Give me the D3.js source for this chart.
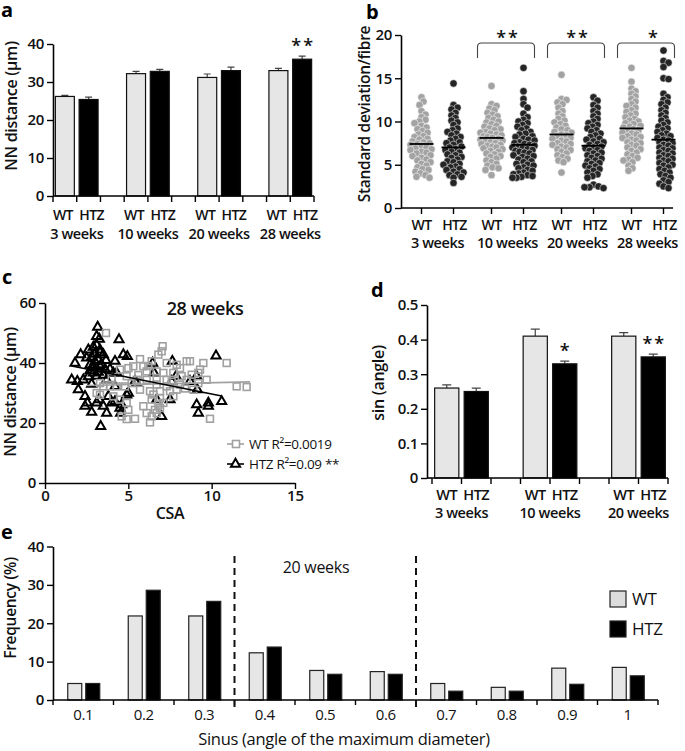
<!DOCTYPE html>
<html><head><meta charset="utf-8">
<script src="https://cdn.jsdelivr.net/npm/d3@7"></script>
<style>
body{margin:0;background:#fff}
</style></head><body>
<svg id="c" width="685" height="751" xmlns="http://www.w3.org/2000/svg"></svg>
<script>
// ---------- DATA ----------
const genotypes = ["WT", "HTZ"];
// panel a
const weeksA = ["3 weeks", "10 weeks", "20 weeks", "28 weeks"];
const nnWT = [26.2, 32.2, 31.2, 33.0];
const nnHTZ = [25.4, 32.8, 33.0, 36.0];
const nnWTerr = [0.3, 0.6, 0.9, 0.6];
const nnHTZerr = [0.6, 0.5, 0.9, 0.8];
const nnTicks = [0, 10, 20, 30, 40];
const nnSig = ["", "", "", "**"];
// panel b
const sdTicks = [0, 5, 10, 15, 20];
const sdWT3 = [12.8,12.3,11.9,11.2,10.8,10.5,10.2,10.0,9.8,9.5,9.3,9.1,8.9,8.7,8.5,8.3,8.2,8.0,7.9,7.7,7.6,7.5,7.4,7.3,7.2,7.0,6.9,6.8,6.7,6.5,6.4,6.3,6.1,6.0,5.8,5.6,5.5,5.3,5.1,4.9,4.7,4.5,4.4,4.2,4.0,3.8,3.6,3.5];
const sdHTZ3 = [14.4,11.9,11.6,11.4,11.0,10.7,10.4,10.1,9.9,9.6,9.2,9.0,8.8,8.6,8.4,8.2,8.0,7.8,7.6,7.5,7.3,7.1,7.0,6.8,6.7,6.5,6.4,6.2,6.1,5.9,5.8,5.6,5.4,5.3,5.1,5.0,4.8,4.7,4.5,4.4,4.2,4.1,3.9,3.8,3.6,3.5,2.9];
const sdWT10 = [14.1,12.0,11.8,11.5,11.3,11.0,10.8,10.6,10.4,10.2,10.0,9.9,9.7,9.5,9.4,9.2,9.1,9.0,8.8,8.7,8.6,8.5,8.4,8.3,8.2,8.1,8.0,7.9,7.8,7.7,7.6,7.5,7.4,7.3,7.2,7.1,7.0,6.9,6.8,6.6,6.5,6.3,6.2,6.0,5.9,5.7,5.5,5.3,5.1,4.9,4.7,4.6,4.4,3.8];
const sdHTZ10 = [16.2,13.5,12.6,12.0,11.6,10.9,10.5,10.2,10.0,9.8,9.6,9.4,9.2,9.0,8.8,8.6,8.5,8.3,8.2,8.0,7.9,7.8,7.6,7.5,7.4,7.3,7.2,7.1,7.0,6.9,6.8,6.7,6.6,6.5,6.4,6.3,6.1,6.0,5.9,5.7,5.6,5.4,5.3,5.1,5.0,4.9,4.7,4.6,4.4,4.3,4.1,4.0,3.9,3.8,3.7,3.6,3.5,3.5];
const sdWT20 = [15.4,12.6,12.5,12.2,12.0,11.6,11.2,10.9,10.6,10.3,10.1,9.9,9.7,9.5,9.3,9.1,9.0,8.8,8.7,8.5,8.4,8.3,8.1,8.0,7.8,7.7,7.5,7.4,7.3,7.1,7.0,6.8,6.7,6.5,6.3,6.1,5.9,5.7,5.5,5.3,4.1];
const sdHTZ20 = [12.8,12.4,11.9,11.6,11.2,10.9,10.6,10.3,10.0,9.8,9.6,9.4,9.2,9.0,8.8,8.6,8.4,8.2,8.0,7.9,7.7,7.6,7.4,7.3,7.1,7.0,6.9,6.7,6.6,6.4,6.3,6.1,6.0,5.8,5.7,5.5,5.4,5.2,5.1,4.9,4.8,4.6,4.5,4.3,4.1,3.9,3.7,3.5,2.7,2.5,2.4,2.3,2.4];
const sdWT28 = [16.2,14.6,13.8,13.5,13.2,12.9,12.6,12.3,12.0,11.8,11.6,11.3,11.1,10.9,10.7,10.5,10.3,10.1,10.0,9.8,9.7,9.5,9.4,9.3,9.1,9.0,8.9,8.7,8.6,8.5,8.3,8.2,8.1,7.9,7.8,7.6,7.5,7.3,7.2,7.0,6.8,6.6,6.4,6.2,6.0,5.8,5.6,5.5,5.3,4.9,4.6,4.3];
const sdHTZ28 = [18.2,17.0,16.8,16.3,15.0,14.9,13.2,12.8,12.5,12.2,12.0,11.6,11.3,11.0,10.7,10.4,10.1,9.9,9.6,9.4,9.2,9.0,8.8,8.6,8.4,8.3,8.1,7.9,7.8,7.6,7.5,7.3,7.2,7.0,6.9,6.7,6.6,6.4,6.3,6.1,6.0,5.8,5.7,5.5,5.4,5.2,5.0,4.9,4.7,4.5,4.3,4.1,3.9,3.7,3.5,3.2,3.0,2.8,2.5,2.3];
const sdMeanWT = [7.4, 8.1, 8.5, 9.2];
const sdMeanHTZ = [7.0, 7.3, 7.2, 7.9];
const sdSig = ["", "**", "**", "*"];
// panel c
const csaTicks = [0, 5, 10, 15];
const nnCTicks = [0, 20, 40, 60];
const wtCSA = [3.66,7.06,7.0,6.8,5.7,6.4,8.5,8.7,9.5,10.9,5.3,5.9,5.0,7.3,7.9,8.1,9.3,4.5,6.1,6.7,7.1,7.7,8.8,9.2,8.2,7.3,6.7,6.1,5.5,5.2,4.9,3.3,3.5,3.9,4.3,4.8,5.7,6.3,6.9,7.5,7.9,7.3,6.7,8.1,8.5,11.5,12.1,3.1,3.3,4.1,4.5,4.9,5.0,4.6,4.9,5.4,5.9,6.1,6.4,6.3,6.6,6.8,6.7,7.1,6.9,6.4,7.7,9.9,8.9,9.7,9.2,6.5,6.9,5.6,4.0,7.6,8.4,6.2];
const wtNN  = [50,45.6,43.9,42.8,41.3,40.6,40.6,40.6,40,40,38.9,38.9,38.3,40,39.4,38.3,37.8,37.8,37.2,37.2,36.7,36.7,36.1,36.7,35.6,34.4,35,34.4,34.4,33.3,35.6,33.3,32.2,32.2,32.2,32.2,31.1,30.6,30.6,30.6,31.1,32.2,32.8,32.8,34.4,32.2,32,30,29.4,28.9,27.8,26.7,24.4,22.2,21.3,21.4,25.6,23.3,22.2,20.2,24.4,26.1,23.3,26.7,28.3,27.8,28.9,21.4,31.1,34.4,33.3,29.5,25.0,36.0,35.0,33.8,31.5,39.0];
const htzCSA = [3.16,3.1,3.26,4.44,2.14,1.8,2.5,2.7,2.9,2.6,3.3,3.5,3.66,4.2,4.7,4.94,1.6,1.94,2.3,2.0,2.4,2.54,2.4,2.8,3.1,3.24,3.5,3.7,3.34,3.8,4.0,4.2,4.5,4.54,4.6,4.9,5.0,4.2,3.7,4.1,4.3,2.9,3.1,3.3,5.5,6.46,6.54,6.7,7.0,7.64,7.5,7.86,7.6,8.7,9.1,9.14,9.1,9.2,9.8,9.8,10.26,10.6,5.4,2.8,3.0,3.2,3.4,3.6,2.7,3.0,3.2,3.5,2.9,3.3,2.6,3.9,3.1,2.8];
const htzNN  = [52,48.9,48,47.8,42.8,40,41.7,39.4,45.3,44.4,44.4,42.8,40.9,40.6,42.8,42.2,34.4,33.9,34.4,31.1,28.9,26.7,25.6,23.6,26.7,27.8,25.6,23.3,18.9,28.9,26.7,27.2,25,23.3,26.1,29.4,30,32.2,34.4,36.7,36.7,36.7,35.6,38.9,33.3,40,36.7,27.8,22.2,40.6,27.8,35.6,33.9,33.9,35.6,31.1,26.1,23.3,26.7,25.6,42.4,27.2,33.9,42.0,43.0,41.0,39.5,38.0,37.5,40.5,37.0,36.0,38.5,43.5,35.5,38.0,46.0,33.0];
const wtFit = [[2.5, 32.5], [12.3, 33.7]];
const htzFit = [[1.6, 39.0], [10.6, 29.0]];
const legendC = ["WT  R\u00B2=0.0019", "HTZ R\u00B2=0.09 **"];
// panel d
const weeksD = ["3 weeks", "10 weeks", "20 weeks"];
const sinWT = [0.26, 0.41, 0.41];
const sinHTZ = [0.25, 0.33, 0.35];
const sinWTerr = [0.009, 0.02, 0.01];
const sinHTZerr = [0.01, 0.008, 0.008];
const sinTicks = [0, 0.1, 0.2, 0.3, 0.4, 0.5];
const sinSig = ["", "*", "**"];
// panel e
const bins = ["0.1","0.2","0.3","0.4","0.5","0.6","0.7","0.8","0.9","1"];
const freqWT = [4.3, 21.9, 21.9, 12.3, 7.7, 7.4, 4.3, 3.3, 8.3, 8.5];
const freqHTZ = [4.3, 28.6, 25.7, 13.8, 6.7, 6.7, 2.3, 2.3, 4.1, 6.3];
const freqTicks = [0, 10, 20, 30, 40];
const dividers = ["0.4", "0.7"];

// ---------- STYLE ----------
const FONT = '"Open Sans","Noto Sans",sans-serif';
const WTFILL = "#e6e6e6", HTZFILL = "#000", WTDOT = "#a3a3a3", HTZDOT = "#252525";
const svg = d3.select("#c");

function txt(g, x, y, s, o = {}) {
  return g.append("text").attr("x", x).attr("y", y).text(s)
    .attr("font-family", FONT).attr("font-size", o.size || 15)
    .attr("font-weight", o.w || 600).attr("fill", o.fill || "#111")
    .attr("text-anchor", o.anchor || "middle")
    .attr("letter-spacing", o.ls !== undefined ? o.ls : -0.3);
}
function vtxt(g, x, y, s, o = {}) {
  return g.append("text").attr("transform", `translate(${x},${y}) rotate(-90)`).text(s)
    .attr("font-family", FONT).attr("font-size", o.size || 15)
    .attr("font-weight", o.w || 600).attr("fill", "#111")
    .attr("text-anchor", "middle").attr("letter-spacing", o.ls !== undefined ? o.ls : -0.3);
}
function yAxis(g, scale, ticks, x, fmt) {
  const ax = d3.axisLeft(scale).tickValues(ticks).tickSize(6).tickSizeOuter(0).tickPadding(3);
  if (fmt) ax.tickFormat(fmt);
  const gg = g.append("g").attr("transform", `translate(${x},0)`).call(ax);
  gg.select(".domain").attr("stroke", "#000").attr("stroke-width", 1.6);
  gg.selectAll(".tick line").attr("stroke", "#000").attr("stroke-width", 1.4);
  gg.selectAll(".tick text").attr("font-size", 15).attr("font-weight", 600)
    .attr("fill", "#111").attr("font-family", FONT).attr("letter-spacing", -0.3);
  return gg;
}
function hline(g, x1, x2, y) {
  g.append("line").attr("x1", x1).attr("x2", x2).attr("y1", y).attr("y2", y)
    .attr("stroke", "#000").attr("stroke-width", 1.6);
}
function vtick(g, x, y, len) {
  g.append("line").attr("x1", x).attr("x2", x).attr("y1", y).attr("y2", y + len)
    .attr("stroke", "#000").attr("stroke-width", 1.4);
}
function panelLabel(x, y, s) {
  svg.append("text").attr("x", x).attr("y", y).text(s).attr("font-family", FONT)
    .attr("font-size", 20).attr("font-weight", 700).attr("fill", "#000");
}

// slot-based grouped bar chart (panels a, d)
function slotBars(g, weeks, wt, htz, wtErr, htzErr, sig, x0, x1, yScale, pad, capW) {
  const slots = [];
  weeks.forEach((w, i) => { slots.push("WT|" + w, "HTZ|" + w); if (i < weeks.length - 1) slots.push("gap|" + w); });
  const x = d3.scaleBand().domain(slots).range([x0, x1]).paddingInner(pad).paddingOuter(pad / 2);
  const data = [];
  weeks.forEach((w, i) => {
    data.push({ s: "WT|" + w, g: "WT", v: wt[i], e: wtErr[i], sig: "" });
    data.push({ s: "HTZ|" + w, g: "HTZ", v: htz[i], e: htzErr[i], sig: sig[i] });
  });
  const y0 = yScale(0);
  g.selectAll(null).data(data).enter().append("path")
    .attr("d", d => {
      const cx = x(d.s) + x.bandwidth() / 2, yt = yScale(d.v), ye = yScale(d.v + d.e);
      return `M${cx},${yt}V${ye}M${cx - capW / 2},${ye}H${cx + capW / 2}`;
    }).attr("stroke", "#444").attr("stroke-width", 1.2).attr("fill", "none");
  g.selectAll(null).data(data).enter().append("rect")
    .attr("x", d => x(d.s)).attr("width", x.bandwidth())
    .attr("y", d => yScale(d.v)).attr("height", d => y0 - yScale(d.v))
    .attr("fill", d => d.g === "WT" ? WTFILL : HTZFILL).attr("stroke", "#111").attr("stroke-width", 1.2);
  data.filter(d => d.sig).forEach(d => {
    txt(g, x(d.s) + x.bandwidth() / 2, yScale(d.v + d.e) - 4, d.sig, { size: 18, w: 600, ls: 2 })
      .attr("dx", 1);
  });
  hline(g, x0, x1, y0);
  const step = x.step();
  d3.range(slots.length + 1).forEach(i => vtick(g, x0 + i * step, y0, 6));
  return x;
}

// ---------- PANEL A ----------
{
  const g = svg.append("g");
  const y = d3.scaleLinear().domain([0, 40]).range([196, 44]);
  yAxis(g, y, nnTicks, 53);
  const x = slotBars(g, weeksA, nnWT, nnHTZ, nnWTerr, nnHTZerr, nnSig, 53, 314, y, 0.2, 7);
  weeksA.forEach(w => {
    const cw = x("WT|" + w) + x.bandwidth() / 2, ch = x("HTZ|" + w) + x.bandwidth() / 2;
    txt(g, cw - 2, 220, "WT", { size: 14, ls: -0.6 });
    txt(g, ch + 3, 220, "HTZ", { size: 14, ls: -0.6 });
    txt(g, (cw + ch) / 2, 239, w, { size: 14.5, ls: -0.4 });
  });
  vtxt(g, 17, 106, "NN distance (\u03BCm)", { size: 16 });
  panelLabel(1, 17, "a");
}

// ---------- PANEL B ----------
function swarm(vals, yScale, cx, minD, maxOff) {
  const placed = [], out = [];
  const sorted = vals.map(v => ({ v, y: yScale(v) })).sort((a, b) => a.y - b.y);
  for (const p of sorted) {
    let best = 0, bestScore = -1;
    for (let k = 0; k <= 2 * maxOff; k++) {
      const off = (k % 2 ? 1 : -1) * Math.ceil(k / 2);
      let md = Infinity;
      for (const q of placed) { const d = Math.hypot(q.x - off, q.y - p.y); if (d < md) md = d; }
      if (md >= minD) { best = off; bestScore = Infinity; break; }
      if (md > bestScore) { bestScore = md; best = off; }
    }
    placed.push({ x: best, y: p.y });
    out.push({ v: p.v, x: cx + best, y: p.y });
  }
  return out;
}
{
  const g = svg.append("g");
  const y = d3.scaleLinear().domain([0, 20]).range([208, 35]);
  const xw = d3.scalePoint().domain(weeksA).range([437.5, 647.5]);
  const xo = d3.scalePoint().domain(genotypes).range([-16, 16]);
  const groups = [
    [sdWT3, sdHTZ3], [sdWT10, sdHTZ10], [sdWT20, sdHTZ20], [sdWT28, sdHTZ28]
  ];
  weeksA.forEach((w, i) => {
    genotypes.forEach((gt, j) => {
      const cx = xw(w) + xo(gt);
      const pts = swarm(groups[i][j], y, cx, 4.6, 11);
      g.selectAll(null).data(pts).enter().append("circle")
        .attr("cx", d => d.x).attr("cy", d => d.y).attr("r", 3.7)
        .attr("fill", j === 0 ? WTDOT : HTZDOT).attr("stroke", "#fff").attr("stroke-width", 0.5);
      const m = j === 0 ? sdMeanWT[i] : sdMeanHTZ[i];
      g.append("line").attr("x1", cx - 12).attr("x2", cx + 12).attr("y1", y(m)).attr("y2", y(m))
        .attr("stroke", "#000").attr("stroke-width", 1.8);
    });
    if (sdSig[i]) {
      const bx1 = xw(w) - 30, bx2 = xw(w) + 27, by1 = 43, by2 = 58, r = 4;
      g.append("path").attr("d", `M${bx1},${by2}V${by1 + r}Q${bx1},${by1} ${bx1 + r},${by1}H${bx2 - r}Q${bx2},${by1} ${bx2},${by1 + r}V${by2}`)
        .attr("fill", "none").attr("stroke", "#444").attr("stroke-width", 1.1);
      txt(g, (bx1 + bx2) / 2 + (sdSig[i] === "*" ? 8 : 2), 44, sdSig[i], { size: 18, ls: 2 });
    }
  });
  yAxis(g, y, sdTicks, 401);
  hline(g, 401, 673, 208);
  weeksA.forEach(w => {
    genotypes.forEach(gt => {
      vtick(g, xw(w) + xo(gt), 208, 6);
      txt(g, xw(w) + xo(gt) + (gt === "HTZ" ? 1 : 0), 230, gt, { size: 14, ls: -0.6 });
    });
    txt(g, xw(w), 248, w, { size: 14.5, ls: -0.4 });
  });
  vtxt(g, 370, 114, "Standard deviation/fibre", { size: 15.5 });
  panelLabel(366, 19, "b");
}

// ---------- PANEL C ----------
{
  const g = svg.append("g");
  const x = d3.scaleLinear().domain([0, 15]).range([45, 295]);
  const y = d3.scaleLinear().domain([0, 60]).range([483, 303]);
  const tri = d3.symbol().type(d3.symbolTriangle).size(36);
  const wtPts = wtCSA.map((c, i) => ({ c, n: wtNN[i] }));
  const htzPts = htzCSA.map((c, i) => ({ c, n: htzNN[i] }));
  g.selectAll(null).data(htzPts).enter().append("path")
    .attr("d", tri).attr("transform", d => `translate(${x(d.c)},${y(d.n)})`)
    .attr("fill", "none").attr("stroke", "#000").attr("stroke-width", 2);
  g.selectAll(null).data(wtPts).enter().append("rect")
    .attr("x", d => x(d.c) - 3.4).attr("y", d => y(d.n) - 3.4).attr("width", 6.8).attr("height", 6.8)
    .attr("fill", "none").attr("stroke", "#a0a0a0").attr("stroke-width", 1.6);
  const line = d3.line().x(d => x(d[0])).y(d => y(d[1]));
  g.append("path").attr("d", line(wtFit)).attr("stroke", "#a0a0a0").attr("stroke-width", 1.6).attr("fill", "none");
  g.append("path").attr("d", line(htzFit)).attr("stroke", "#000").attr("stroke-width", 1.6).attr("fill", "none");
  yAxis(g, y, nnCTicks, 45);
  const ax = d3.axisBottom(x).tickValues(csaTicks).tickSize(6).tickSizeOuter(0).tickPadding(3);
  const gx = g.append("g").attr("transform", "translate(0,483)").call(ax);
  gx.select(".domain").attr("stroke", "#000").attr("stroke-width", 1.6);
  gx.selectAll(".tick line").attr("stroke", "#000").attr("stroke-width", 1.4);
  gx.selectAll(".tick text").attr("font-size", 15).attr("font-weight", 600).attr("fill", "#111")
    .attr("font-family", FONT).attr("dy", "0.6em");
  txt(g, 170, 519, "CSA", { size: 16 });
  txt(g, 205, 315, "28 weeks", { size: 18, w: 600, ls: -0.4 });
  vtxt(g, 16, 392, "NN distance (\u03BCm)", { size: 16 });
  const ly = [444, 464];
  ly.forEach((yy, i) => {
    g.append("line").attr("x1", 227).attr("x2", 244).attr("y1", yy).attr("y2", yy)
      .attr("stroke", i === 0 ? "#a0a0a0" : "#000").attr("stroke-width", 1.6);
    if (i === 0) g.append("rect").attr("x", 232.5).attr("y", yy - 3.5).attr("width", 7).attr("height", 7)
      .attr("fill", "#fff").attr("stroke", "#a0a0a0").attr("stroke-width", 1.6);
    else g.append("path").attr("d", tri).attr("transform", `translate(235.5,${yy})`)
      .attr("fill", "#fff").attr("stroke", "#000").attr("stroke-width", 2);
    txt(g, 249, yy + 5, legendC[i], { size: 13.5, w: 500, anchor: "start", ls: -0.3 });
  });
  panelLabel(2, 284, "c");
}

// ---------- PANEL D ----------
{
  const g = svg.append("g");
  const y = d3.scaleLinear().domain([0, 0.5]).range([478, 305]);
  yAxis(g, y, sinTicks, 427, d => d === 0 ? "0" : d3.format(".1f")(d));
  hline(g, 427, 432, 478);
  const x = slotBars(g, weeksD, sinWT, sinHTZ, sinWTerr, sinHTZerr, sinSig, 432, 668, y, 0.18, 9);
  weeksD.forEach(w => {
    const cw = x("WT|" + w) + x.bandwidth() / 2, ch = x("HTZ|" + w) + x.bandwidth() / 2;
    txt(g, cw, 500, "WT", { size: 14.5, ls: -0.5 });
    txt(g, ch, 500, "HTZ", { size: 14.5, ls: -0.5 });
    txt(g, (cw + ch) / 2, 518, w, { size: 14.5, ls: -0.4 });
  });
  vtxt(g, 384, 383, "sin (angle)", { size: 16 });
  panelLabel(371, 297, "d");
}

// ---------- PANEL E ----------
{
  const g = svg.append("g");
  const y = d3.scaleLinear().domain([0, 40]).range([700, 546.5]);
  const x = d3.scaleBand().domain(bins).range([53, 658]);
  const xi = d3.scaleBand().domain(genotypes).range([-15.5, 16.5]).paddingInner(0.222);
  const data = [];
  bins.forEach((b, i) => {
    data.push({ b, g: "WT", v: freqWT[i] });
    data.push({ b, g: "HTZ", v: freqHTZ[i] });
  });
  g.selectAll(null).data(data).enter().append("rect")
    .attr("x", d => x(d.b) + x.bandwidth() / 2 + xi(d.g)).attr("width", xi.bandwidth())
    .attr("y", d => y(d.v)).attr("height", d => y(0) - y(d.v))
    .attr("fill", d => d.g === "WT" ? WTFILL : HTZFILL).attr("stroke", "#222").attr("stroke-width", 1.2);
  yAxis(g, y, freqTicks, 53);
  hline(g, 53, 658, 700);
  d3.range(bins.length + 1).forEach(i => vtick(g, 53 + i * x.step(), 700, 5));
  bins.forEach(b => txt(g, x(b) + x.bandwidth() / 2, 720, b, { size: 15, w: 500 }));
  dividers.forEach(b => {
    g.append("line").attr("x1", x(b)).attr("x2", x(b)).attr("y1", 556).attr("y2", 708)
      .attr("stroke", "#111").attr("stroke-width", 2).attr("stroke-dasharray", "7,5");
  });
  txt(g, 316, 573, "20 weeks", { size: 16, w: 500 });
  txt(g, 344, 745, "Sinus (angle of the maximum diameter)", { size: 16.5, w: 500, ls: -0.3 });
  vtxt(g, 16, 608, "Frequency (%)", { size: 15.5 });
  genotypes.forEach((gt, i) => {
    const yy = 591 + i * 30;
    g.append("rect").attr("x", 610).attr("y", yy).attr("width", 16).attr("height", 16)
      .attr("fill", gt === "WT" ? "#dcdcdc" : "#000").attr("stroke", "#222").attr("stroke-width", 1.2);
    txt(g, 632, yy + 14, gt, { size: 17, anchor: "start", w: 500 });
  });
  panelLabel(1, 539, "e");
}
</script>
</body></html>
